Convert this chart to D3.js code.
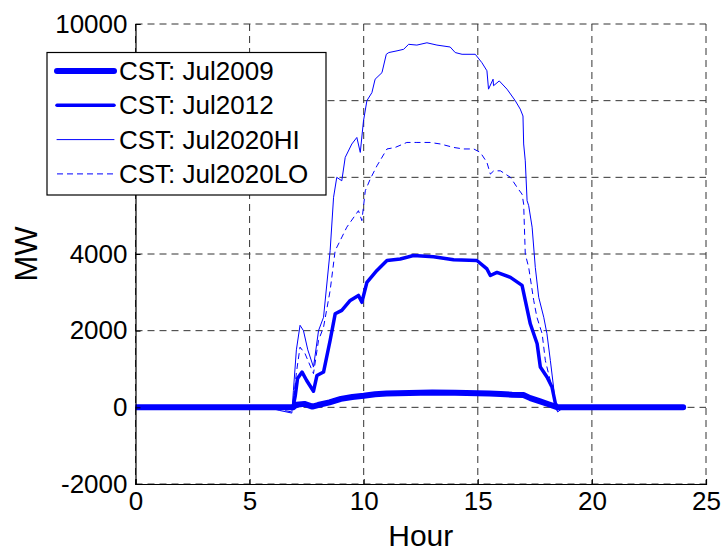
<!DOCTYPE html>
<html>
<head>
<meta charset="utf-8">
<script src="https://cdn.jsdelivr.net/npm/d3@7"></script>
<style>
  body { margin: 0; background: #fff; }
  svg text { font-family: "Liberation Sans", Arial, sans-serif; fill: #000; }
</style>
</head>
<body>
<div id="chart-area"></div>
<script>
var xTicks = [0, 5, 10, 15, 20, 25];
var yTicks = [-2000, 0, 2000, 4000, 6000, 8000, 10000];

var seriesNames = ["CST: Jul2009", "CST: Jul2012", "CST: Jul2020HI", "CST: Jul2020LO"];

var hours2009 = [0, 6.9, 7.05, 7.4, 7.75, 8.0, 8.5, 9.0, 9.5, 10.0, 10.5, 11.0, 12.0, 13.0, 14.0, 15.0, 15.5, 16.0, 16.5, 17.0, 17.3, 17.7, 18.1, 18.5, 24];
var mw2009 = [0, 0, 70, 90, 20, 60, 130, 220, 270, 300, 340, 360, 375, 385, 380, 370, 360, 350, 330, 320, 240, 160, 80, 0, 0];

var hours2012 = [0, 6.9, 7.0, 7.1, 7.3, 7.5, 7.8, 7.95, 8.24, 8.53, 8.75, 9.04, 9.41, 9.77, 9.92, 10.14, 10.58, 11.02, 11.6, 12.18, 13.06, 13.94, 14.96, 15.4, 15.55, 15.84, 16.43, 16.94, 17.08, 17.3, 17.6, 17.74, 18.03, 18.25, 18.4, 18.5, 24];
var mw2012 = [0, 0, 300, 750, 920, 700, 420, 830, 920, 1750, 2440, 2530, 2790, 2920, 2740, 3260, 3570, 3830, 3870, 3960, 3930, 3850, 3830, 3610, 3440, 3520, 3390, 3180, 2790, 2180, 1660, 1050, 790, 530, 100, 0, 0];

var hoursHI = [0, 5.8, 6.3, 6.85, 6.92, 7.05, 7.21, 7.36, 7.55, 7.8, 8.02, 8.24, 8.53, 8.68, 8.82, 9.04, 9.19, 9.48, 9.7, 9.85, 9.99, 10.14, 10.36, 10.5, 10.8, 10.99, 11.1, 11.46, 11.75, 11.97, 12.33, 12.77, 13.21, 13.79, 14.01, 14.31, 14.89, 15.18, 15.4, 15.47, 15.67, 15.69, 15.94, 16.28, 16.64, 16.86, 16.98, 17.01, 17.08, 17.16, 17.23, 17.38, 17.52, 17.67, 17.89, 18.03, 18.18, 18.32, 18.4, 18.5, 18.7, 19, 24];
var mwHI = [0, 0, -80, -150, 440, 1500, 2140, 2000, 1500, 1050, 2000, 2350, 4090, 5480, 6000, 5910, 6520, 6870, 7040, 6650, 7470, 8000, 8210, 8560, 8730, 9210, 9255, 9300, 9340, 9470, 9450, 9510, 9450, 9400, 9255, 9210, 9210, 8990, 8780, 8300, 8560, 8390, 8515, 8300, 8000, 7780, 7600, 6870, 6430, 5390, 5260, 4700, 3650, 2870, 2350, 1920, 1220, 530, 0, -120, -30, 0, 0];

var hoursLO = [0, 5.8, 6.3, 6.85, 6.92, 7.05, 7.21, 7.43, 7.8, 8.02, 8.24, 8.53, 8.75, 8.97, 9.26, 9.77, 9.92, 10.07, 10.29, 10.58, 11.02, 11.38, 11.89, 12.33, 12.91, 13.36, 13.94, 14.37, 14.82, 15.11, 15.4, 15.55, 15.7, 15.99, 16.43, 16.72, 16.94, 17.01, 17.08, 17.23, 17.45, 17.59, 17.82, 17.96, 18.1, 18.25, 18.4, 18.5, 18.7, 24];
var mwLO = [0, 0, -60, -120, 180, 900, 1570, 1400, 880, 1750, 2090, 3050, 4090, 4350, 4700, 5130, 4870, 5650, 5960, 6300, 6740, 6780, 6910, 6910, 6910, 6870, 6780, 6740, 6740, 6650, 6390, 6085, 6170, 6170, 6000, 5740, 5560, 5300, 4000, 3650, 2790, 2350, 1920, 1220, 880, 530, 0, -80, 0, 0];

var margin = { top: 24, right: 16, bottom: 69, left: 135.5 };
var width = 722;
var height = 553;
var chartWidth = width - margin.left - margin.right;
var chartHeight = height - margin.top - margin.bottom;

var legendBox = { x: 47, y: 52.5, w: 279, h: 142.5 };

var series = [
  { name: seriesNames[0], hours: hours2009, mw: mw2009, width: 6, dash: null },
  { name: seriesNames[1], hours: hours2012, mw: mw2012, width: 3.5, dash: null },
  { name: seriesNames[2], hours: hoursHI, mw: mwHI, width: 1, dash: null },
  { name: seriesNames[3], hours: hoursLO, mw: mwLO, width: 1, dash: "6,4" }
];

var svg = d3.select("#chart-area")
  .append("svg")
  .attr("width", width)
  .attr("height", height);

var g = svg.append("g")
  .attr("transform", "translate(" + margin.left + ", " + margin.top + ")");

var x = d3.scaleLinear().domain([0, 25]).range([0, chartWidth]);
var y = d3.scaleLinear().domain([-2000, 10000]).range([chartHeight, 0]);

// dashed grid
g.append("g").selectAll("line")
  .data(xTicks).enter()
  .append("line")
  .attr("x1", d => x(d)).attr("x2", d => x(d))
  .attr("y1", 0).attr("y2", chartHeight)
  .attr("stroke", "#333")
  .attr("stroke-width", 1)
  .attr("stroke-dasharray", "7,5");

g.append("g").selectAll("line")
  .data(yTicks).enter()
  .append("line")
  .attr("x1", 0).attr("x2", chartWidth)
  .attr("y1", d => y(d)).attr("y2", d => y(d))
  .attr("stroke", "#333")
  .attr("stroke-width", 1)
  .attr("stroke-dasharray", "7,5");

svg.append("clipPath")
  .attr("id", "clip")
  .append("rect")
  .attr("x", 0).attr("y", -10)
  .attr("width", chartWidth + 10).attr("height", chartHeight + 20);

var line = d3.line()
  .x(d => x(d[0]))
  .y(d => y(d[1]));

g.append("g")
  .attr("clip-path", "url(#clip)")
  .selectAll("path")
  .data(series).enter()
  .append("path")
  .attr("d", d => line(d.hours.map((h, i) => [h, d.mw[i]])))
  .attr("fill", "none")
  .attr("stroke", "#0000ff")
  .attr("stroke-width", d => d.width)
  .attr("stroke-linejoin", "round")
  .attr("stroke-linecap", d => d.dash ? "butt" : "round")
  .attr("stroke-dasharray", d => d.dash);

var bottomAxis = d3.axisBottom(x).tickValues(xTicks).tickSize(-5).tickPadding(8)
  .tickFormat(d3.format("d"));
var xAxis = g.append("g")
  .attr("class", "x axis")
  .attr("transform", "translate(0, " + chartHeight + ")")
  .call(bottomAxis);

// labels that sit under the legend box are hidden in the original
var leftAxis = d3.axisLeft(y).tickValues(yTicks).tickSize(-5).tickPadding(8)
  .tickFormat(d => {
    var py = y(d) + margin.top;
    return (py > legendBox.y && py < legendBox.y + legendBox.h) ? "" : String(d);
  });
var yAxis = g.append("g")
  .attr("class", "y axis")
  .call(leftAxis);

[xAxis, yAxis].forEach(a => {
  a.select(".domain").attr("stroke", "#000").attr("stroke-width", 1.2);
  a.selectAll(".tick line").attr("stroke", "#000");
  a.selectAll("text").attr("font-size", "26px").attr("fill", "#000");
});

svg.append("text")
  .attr("x", -(margin.top + chartHeight / 2))
  .attr("y", 26)
  .attr("text-anchor", "middle")
  .attr("dominant-baseline", "central")
  .attr("transform", "rotate(-90)")
  .attr("font-size", "31px")
  .text("MW");

svg.append("text")
  .attr("x", margin.left + chartWidth / 2)
  .attr("y", 546)
  .attr("text-anchor", "middle")
  .attr("font-size", "30px")
  .text("Hour");

// legend
var legend = svg.append("g").attr("transform", "translate(" + legendBox.x + ", " + legendBox.y + ")");
legend.append("rect")
  .attr("width", legendBox.w)
  .attr("height", legendBox.h)
  .attr("fill", "#fff")
  .attr("stroke", "#000")
  .attr("stroke-width", 1.2);

var rows = legend.selectAll(".row")
  .data(series).enter()
  .append("g")
  .attr("class", "row")
  .attr("transform", (d, i) => "translate(0, " + (18.5 + i * 34.3) + ")");

rows.append("line")
  .attr("x1", 10).attr("x2", 67)
  .attr("stroke", "#0000ff")
  .attr("stroke-width", d => d.width)
  .attr("stroke-linecap", d => d.dash ? "butt" : "round")
  .attr("stroke-dasharray", d => d.dash);

rows.append("text")
  .attr("x", 72)
  .attr("dominant-baseline", "central")
  .attr("font-size", "26px")
  .text(d => d.name);
</script>
</body>
</html>
